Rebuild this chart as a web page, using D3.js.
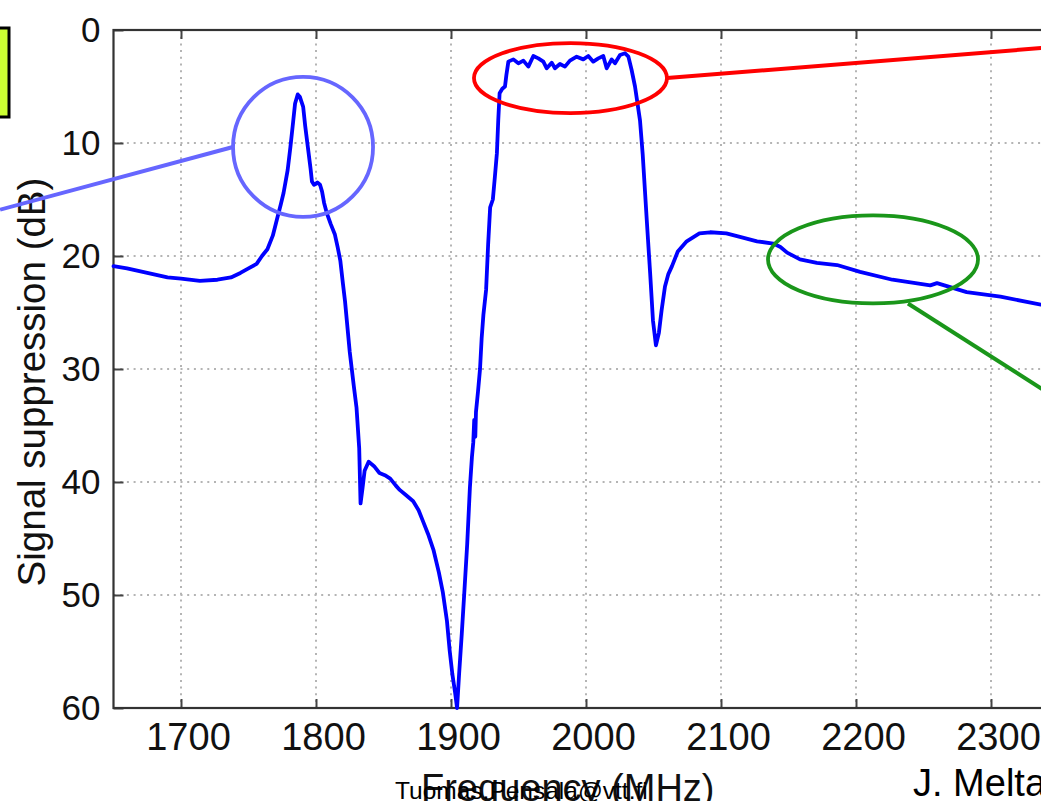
<!DOCTYPE html>
<html>
<head>
<meta charset="utf-8">
<script src="https://cdn.jsdelivr.net/npm/d3@7"></script>
<style>
  body { margin: 0; background: #fff; }
  svg { display: block; font-family: "Liberation Sans", Arial, sans-serif; }
</style>
</head>
<body>
<svg width="1041" height="801"></svg>
<script>
// Measured response (frequency in MHz, suppression in dB)
const freq = [1650, 1660, 1675, 1690, 1700, 1714, 1727, 1737, 1744, 1750, 1756, 1760, 1764, 1768, 1771, 1774,
  1776, 1779, 1781, 1783, 1784.5, 1786.5, 1788, 1790.5, 1792, 1794, 1796, 1797, 1798.5, 1801, 1803, 1804.5,
  1806, 1808, 1811, 1814, 1816, 1818, 1820, 1821.5, 1825, 1828, 1830, 1832, 1833, 1834.5, 1836, 1839, 1843,
  1847, 1851, 1855, 1859, 1862, 1867, 1872, 1876, 1879, 1883, 1887, 1891, 1894, 1897, 1899, 1901, 1903,
  1904.5, 1906, 1908, 1910, 1912, 1914, 1915.5, 1916.5, 1917.2, 1918, 1918.5, 1920, 1921.5, 1922.7, 1924,
  1926, 1927.5, 1929, 1931, 1932.5, 1934, 1935, 1936, 1938, 1940, 1941, 1942.5, 1946.2, 1949.9, 1953.6,
  1957.3, 1961, 1964.7, 1968.4, 1970.9, 1974.6, 1977, 1980.7, 1984.4, 1988.1, 1993.1, 1998, 2001.7, 2005.4,
  2009.1, 2012.8, 2015.3, 2019, 2021.5, 2025.2, 2028.9, 2031.4, 2033.8, 2036.3, 2040, 2042, 2045, 2047.5,
  2049.6, 2051.8, 2054, 2056, 2058.5, 2061, 2063.7, 2068, 2074.6, 2084, 2092, 2104, 2114, 2126.7, 2138.7,
  2144, 2149, 2158.5, 2171, 2186, 2203, 2227, 2255, 2260, 2282, 2307, 2337, 2345];
const suppression = [20.9, 21.1, 21.5, 21.9, 22.0, 22.2, 22.1, 21.9, 21.5, 21.1, 20.7, 20.0, 19.4, 18.2, 16.8, 15.4,
  14.4, 12.4, 10.4, 8.2, 6.5, 5.7, 5.9, 6.8, 8.5, 10.4, 12.3, 13.4, 13.7, 13.5, 13.7, 14.3,
  15.3, 16.2, 17.2, 18.1, 19.2, 20.4, 22.5, 24.0, 28.5, 31.5, 33.4, 37.0, 41.9, 40.5, 39.0, 38.2, 38.6,
  39.2, 39.4, 39.7, 40.3, 40.7, 41.2, 41.7, 42.5, 43.4, 44.6, 46.0, 48.0, 49.8, 52.3, 54.9, 57.0, 58.6,
  60.0, 57.0, 53.4, 49.5, 45.5, 40.5, 37.8, 36.5, 34.5, 36.0, 33.8, 32.0, 30.0, 27.3, 25.2,
  23.0, 19.0, 15.7, 15.0, 13.0, 10.9, 8.0, 5.6, 5.2, 5.0, 4.0, 2.8, 2.6, 2.95, 2.71,
  3.24, 2.3, 2.51, 2.8, 3.39, 2.89, 3.39, 3.01, 3.24, 2.71, 2.36, 2.6, 2.3, 2.8,
  2.51, 2.3, 3.39, 2.6, 2.95, 2.21, 2.06, 2.36, 3.54, 5.0, 8.0, 11.0, 16.8, 21.5,
  25.7, 27.9, 26.8, 24.8, 22.7, 21.6, 20.9, 19.6, 18.7, 18.0, 17.9, 18.0, 18.3, 18.7, 18.9,
  19.2, 19.7, 20.3, 20.6, 20.8, 21.4, 22.1, 22.6, 22.4, 23.2, 23.6, 24.3, 24.5];

const xTicks = [1700, 1800, 1900, 2000, 2100, 2200, 2300];
const yTicks = [0, 10, 20, 30, 40, 50, 60];

// Highlight marks drawn over the chart (centres in data units)
const highlights = [
  { f: 1790.4, db: 10.35, rx: 70, ry: 70, color: '#6666ff', lineFrom: [1738.5, 10.35], lineTo: [1566, 15.9] },
  { f: 1988.5, db: 4.25, rx: 96.5, ry: 35, color: '#ff0000', lineFrom: [2060, 4.25], lineTo: [2400, 1.0] },
  { f: 2212.6, db: 20.3, rx: 105, ry: 44, color: '#1a961a', lineFrom: [2238.5, 24.2], lineTo: [2400, 36.5] }
];

const svg = d3.select('svg');

const x = d3.scaleLinear().domain([1650, 2400]).range([113.5, 1126]);
const y = d3.scaleLinear().domain([0, 60]).range([30, 708]);

// dotted grid
svg.append('g')
  .selectAll('line')
  .data(xTicks)
  .join('line')
  .attr('x1', d => x(d)).attr('x2', d => x(d))
  .attr('y1', y(0)).attr('y2', y(60))
  .attr('stroke', '#b4b4b4')
  .attr('stroke-width', 2)
  .attr('stroke-dasharray', '2,4.7');

svg.append('g')
  .selectAll('line')
  .data(yTicks.slice(1, -1))
  .join('line')
  .attr('x1', x(1650)).attr('x2', x(2400))
  .attr('y1', d => y(d)).attr('y2', d => y(d))
  .attr('stroke', '#b4b4b4')
  .attr('stroke-width', 2)
  .attr('stroke-dasharray', '2,4.7');

// axes with inward ticks
const xAxis = svg.append('g')
  .attr('transform', `translate(0,${y(60)})`)
  .call(d3.axisBottom(x).tickValues(xTicks).tickFormat(d3.format('d'))
    .tickSizeInner(-9).tickSizeOuter(0).tickPadding(15));
xAxis.selectAll('text')
  .attr('dx', 7)
  .style('font-size', '38px')
  .attr('fill', '#111');

svg.append('g')
  .attr('transform', `translate(0,${y(0)})`)
  .call(d3.axisTop(x).tickValues(xTicks).tickSizeInner(-9).tickSizeOuter(0).tickFormat(''));

const yAxis = svg.append('g')
  .attr('transform', `translate(${x(1650)},0)`)
  .call(d3.axisLeft(y).tickValues(yTicks).tickFormat(d3.format('d'))
    .tickSizeInner(-10).tickSizeOuter(0).tickPadding(13));
yAxis.selectAll('text')
  .style('font-size', '35px')
  .attr('fill', '#111');

svg.selectAll('.domain').remove();
svg.selectAll('.tick line').attr('stroke', '#444').attr('stroke-width', 2);

// plot frame
svg.append('rect')
  .attr('x', x(1650)).attr('y', y(0))
  .attr('width', x(2400) - x(1650)).attr('height', y(60) - y(0))
  .attr('fill', 'none')
  .attr('stroke', '#333')
  .attr('stroke-width', 2.2);

// response curve
const line = d3.line()
  .x((d, i) => x(freq[i]))
  .y(d => y(d));

svg.append('path')
  .datum(suppression)
  .attr('d', line)
  .attr('fill', 'none')
  .attr('stroke', '#0000ff')
  .attr('stroke-width', 3.8)
  .attr('stroke-linejoin', 'round')
  .attr('stroke-linecap', 'round');

// axis labels
svg.append('text')
  .attr('transform', 'translate(45,382) rotate(-90)')
  .attr('text-anchor', 'middle')
  .style('font-size', '38.5px')
  .attr('fill', '#111')
  .text('Signal suppression (dB)');

svg.append('text')
  .attr('x', 421).attr('y', 801)
  .style('font-size', '38px')
  .attr('fill', '#111')
  .text('Frequency (MHz)');

svg.append('text')
  .attr('x', 395).attr('y', 799)
  .style('font-size', '24.5px')
  .attr('fill', '#000')
  .text('Tuomas.Pensala@vtt.fi');

svg.append('text')
  .attr('x', 913).attr('y', 796)
  .style('font-size', '38px')
  .attr('fill', '#000')
  .text('J. Meltaus');

// yellow box at the left edge
svg.append('rect')
  .attr('x', -10).attr('y', 28)
  .attr('width', 19).attr('height', 89)
  .attr('fill', '#ccff33')
  .attr('stroke', '#000')
  .attr('stroke-width', 3);

// highlight ellipses and pointer lines
highlights.forEach(h => {
  svg.append('line')
    .attr('x1', x(h.lineFrom[0])).attr('y1', y(h.lineFrom[1]))
    .attr('x2', x(h.lineTo[0])).attr('y2', y(h.lineTo[1]))
    .attr('stroke', h.color)
    .attr('stroke-width', 4);
  svg.append('ellipse')
    .attr('cx', x(h.f)).attr('cy', y(h.db))
    .attr('rx', h.rx).attr('ry', h.ry)
    .attr('fill', 'none')
    .attr('stroke', h.color)
    .attr('stroke-width', 3.8);
});
</script>
</body>
</html>
